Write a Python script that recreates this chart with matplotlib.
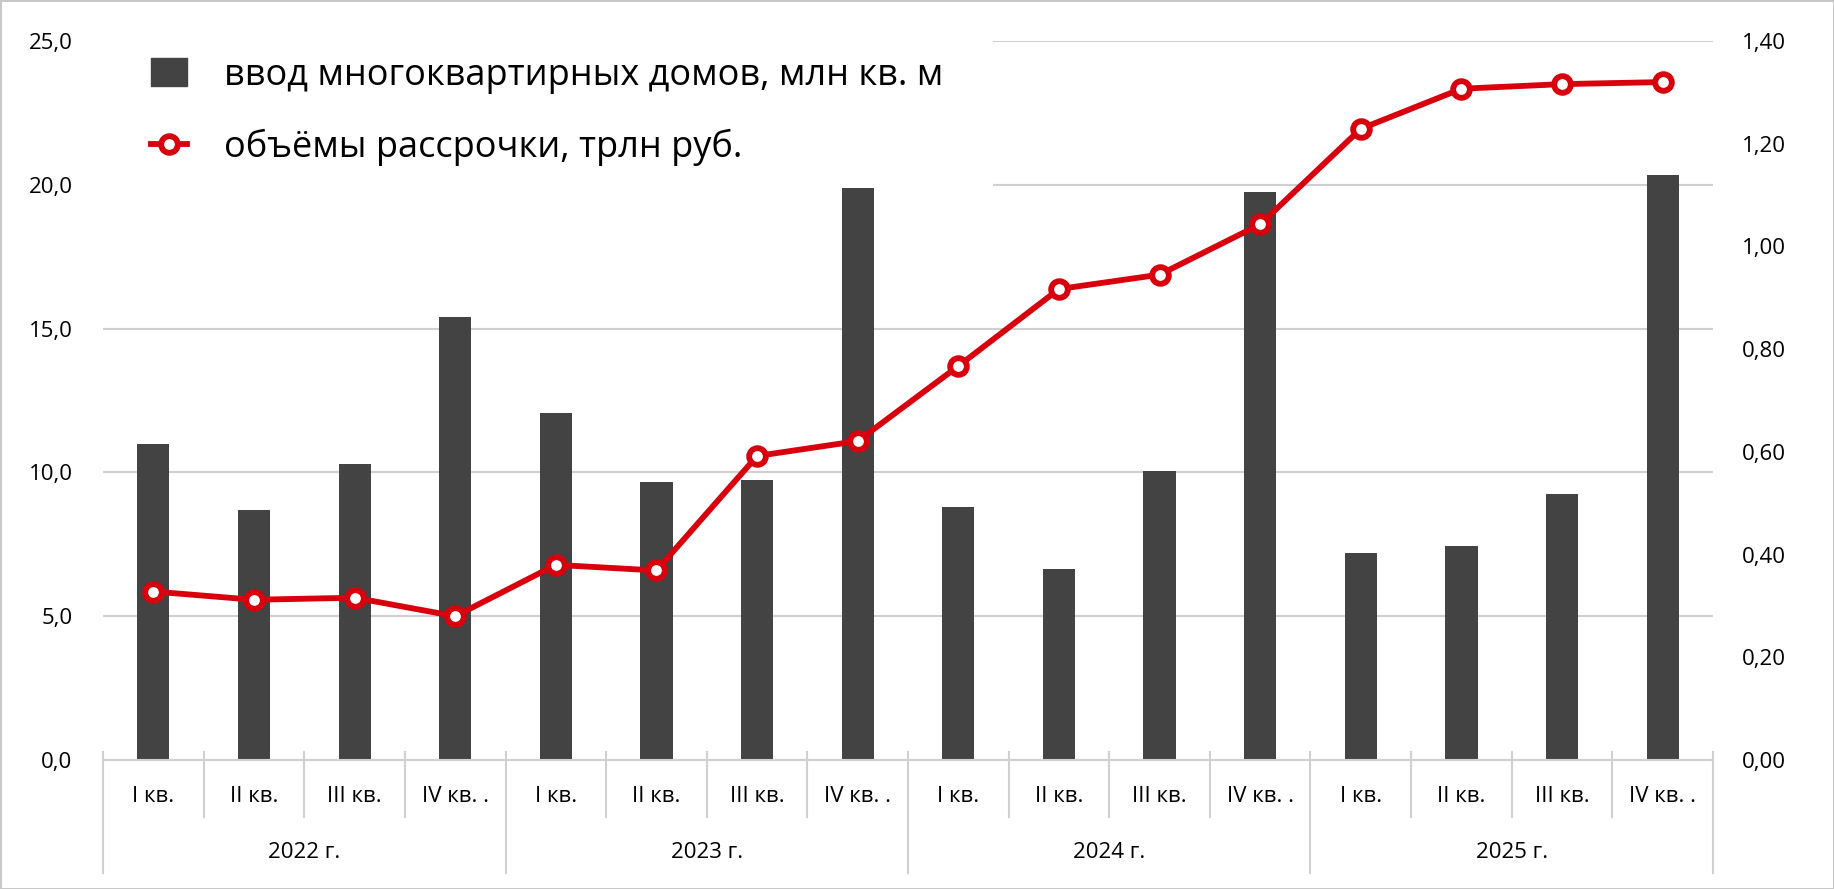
import matplotlib
matplotlib.use("Agg")
import matplotlib.pyplot as plt
from matplotlib.lines import Line2D
from matplotlib.patches import Patch, Rectangle
from matplotlib.ticker import FuncFormatter

plt.rcParams['font.family'] = ['Open Sans', 'DejaVu Sans']

quarters = ["I кв.", "II кв.", "III кв.", "IV кв. ."] * 4
years = ["2022 г.", "2023 г.", "2024 г.", "2025 г."]
housing = [11.0, 8.7, 10.3, 15.4,
           12.05, 9.65, 9.75, 19.9,
           8.8, 6.65, 10.05, 19.75,
           7.2, 7.45, 9.25, 20.35]
installments = [0.328, 0.312, 0.316, 0.280,
                0.380, 0.369, 0.592, 0.621,
                0.767, 0.917, 0.945, 1.043,
                1.229, 1.307, 1.316, 1.320]

bar_color = "#434343"
red = "#d9000d"
grid_color = "#d0d0d0"

fig = plt.figure(figsize=(18.34, 8.89), dpi=100)
fig.patch.set_edgecolor("#c8c8c8")
fig.patch.set_linewidth(2)
ax = fig.add_axes([0.0562, 0.1451, 0.8778, 0.8088])

x = list(range(len(housing)))
ax.bar(x, housing, width=0.32, color=bar_color, zorder=2)
ax.set_xlim(-0.5, 15.5)
ax.set_ylim(0, 25)
ax.set_yticks([0, 5, 10, 15, 20, 25])
ax.yaxis.set_major_formatter(FuncFormatter(lambda v, p: f"{v:.1f}".replace(".", ",")))
ax.set_axisbelow(True)
ax.grid(axis="y", color=grid_color, linewidth=1.5)
for s in ["top", "left", "right"]:
    ax.spines[s].set_visible(False)
ax.spines["bottom"].set_color(grid_color)
ax.spines["bottom"].set_linewidth(1.5)
ax.tick_params(axis="y", length=0, pad=22, labelsize=16)
ax.set_xticks(x)
ax.set_xticklabels([])
ax.tick_params(axis="x", length=0)

# white area behind the legend hides the upper gridlines
ax.add_patch(Rectangle((0, 0.789), 0.553, 0.25, transform=ax.transAxes,
                       facecolor="white", edgecolor="none", zorder=1.8, clip_on=False))

tr = ax.get_xaxis_transform()
for i, q in enumerate(quarters):
    ax.text(i, -0.051, q, transform=tr, ha="center", va="center", fontsize=16)
for k in range(17):
    if k % 4 == 0:
        ax.plot([k - 0.5, k - 0.5], [0.011, -0.157], transform=tr, color=grid_color,
                linewidth=1.5, clip_on=False)
    else:
        ax.plot([k - 0.5, k - 0.5], [0.011, -0.079], transform=tr, color=grid_color,
                linewidth=1.5, clip_on=False)
for j, yr in enumerate(years):
    ax.text(j * 4 + 1.5, -0.129, yr, transform=tr, ha="center", va="center", fontsize=16)

ax2 = ax.twinx()
ax2.plot(x, installments, color=red, linewidth=4.2, marker="o", markersize=12,
         markerfacecolor="white", markeredgecolor=red, markeredgewidth=4.2, zorder=3)
ax2.set_ylim(0, 1.4)
ax2.set_yticks([0, 0.2, 0.4, 0.6, 0.8, 1.0, 1.2, 1.4])
ax2.yaxis.set_major_formatter(FuncFormatter(lambda v, p: f"{v:.2f}".replace(".", ",")))
ax2.tick_params(axis="y", length=0, pad=21, labelsize=16)
for s in ax2.spines.values():
    s.set_visible(False)

handles = [Patch(facecolor=bar_color, edgecolor=bar_color),
           Line2D([0], [0], color=red, linewidth=4.2, marker="o", markersize=12,
                  markerfacecolor="white", markeredgecolor=red, markeredgewidth=4.2)]
labels = ["ввод многоквартирных домов, млн кв. м", "объёмы рассрочки, трлн руб."]
leg = ax2.legend(handles, labels, loc="upper left", bbox_to_anchor=(0.03, 0.977),
                 fontsize=26, frameon=False, labelspacing=0.98, handlelength=1.0,
                 handleheight=0.85, handletextpad=1.0, borderpad=0.0, borderaxespad=0.0)
leg.set_zorder(10)

fig.savefig("out.png", dpi=100, edgecolor=fig.get_edgecolor())
